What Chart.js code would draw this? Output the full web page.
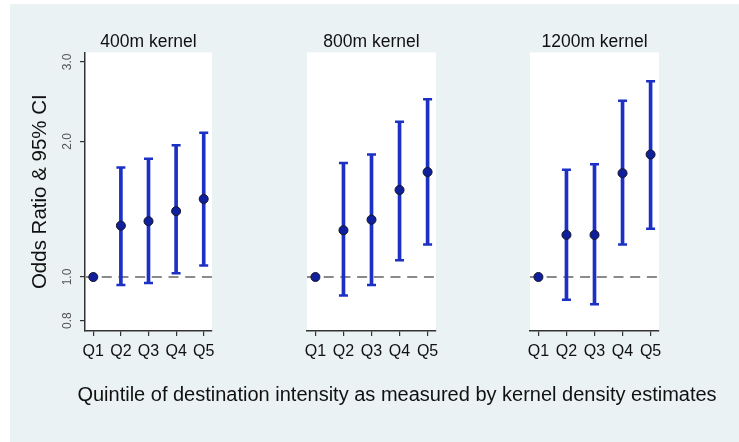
<!DOCTYPE html>
<html>
<head>
<meta charset="utf-8">
<script src="https://cdn.jsdelivr.net/npm/chart.js@4/dist/chart.umd.min.js"></script>
<style>
  html, body { margin: 0; padding: 0; background: #ffffff; width: 739px; height: 442px; overflow: hidden; }
  #bg { position: absolute; left: 10px; top: 4px; width: 729px; height: 438px; background: #eaf2f3; }
  canvas { position: absolute; top: 0; }
  #xtitle { position: absolute; left: 397px; top: 382px; transform: translateX(-50%); white-space: nowrap;
            font: 20px/24px "Liberation Sans", Arial, sans-serif; color: #111; }
</style>
</head>
<body>
<div id="bg"></div>
<canvas id="p0" width="215" height="442" style="left:0px"></canvas>
<canvas id="p1" width="140" height="442" style="left:300px"></canvas>
<canvas id="p2" width="140" height="442" style="left:524px"></canvas>
<div id="xtitle">Quintile of destination intensity as measured by kernel density estimates</div>
<script>
// Quintiles on the x axis and the odds ratios (with 95% CI) for each kernel size
const categories = ['Q1', 'Q2', 'Q3', 'Q4', 'Q5'];
const panelTitles = ['400m kernel', '800m kernel', '1200m kernel'];

const or400 = [1.00, 1.30, 1.33, 1.40, 1.49];
const lo400 = [null, 0.96, 0.97, 1.02, 1.06];
const hi400 = [null, 1.75, 1.83, 1.96, 2.09];

const or800 = [1.00, 1.27, 1.34, 1.56, 1.71];
const lo800 = [null, 0.91, 0.96, 1.09, 1.18];
const hi800 = [null, 1.79, 1.87, 2.21, 2.48];

const or1200 = [1.00, 1.24, 1.24, 1.70, 1.87];
const lo1200 = [null, 0.89, 0.87, 1.18, 1.28];
const hi1200 = [null, 1.73, 1.78, 2.46, 2.72];

const yTicks = [0.8, 1.0, 2.0, 3.0];
const refValue = 1.0;

const FONT = '"Liberation Sans", Arial, sans-serif';
const CI_BLUE = '#1c30c4';
const DOT_NAVY = '#10209c';
const X_MIN = 0.7, X_MAX = 5.3;
const Y_MIN = 0.759, Y_MAX = 3.15;

// white plotting region behind each panel
const panelBg = {
  id: 'panelBg',
  beforeDraw(chart) {
    const { ctx, chartArea: a } = chart;
    ctx.save();
    ctx.fillStyle = '#ffffff';
    ctx.fillRect(a.left, a.top, a.right - a.left, a.bottom - a.top);
    ctx.restore();
  }
};

function makePanel(id, title, or, lo, hi, showY, pad) {
  const ciBars = [], caps = [];
  categories.forEach((c, i) => {
    if (lo[i] == null) return;
    ciBars.push({ x: i + 1, y: [lo[i], hi[i]] });
    caps.push({ x: i + 1, y: lo[i] });
    caps.push({ x: i + 1, y: hi[i] });
  });
  const points = or.map((v, i) => ({ x: i + 1, y: v }));

  return new Chart(document.getElementById(id), {
    type: 'scatter',
    data: {
      datasets: [
        { type: 'line', data: [{ x: X_MIN, y: refValue }, { x: X_MAX, y: refValue }],
          borderColor: '#8a8a8a', borderWidth: 2, borderDash: [10, 6.7], pointRadius: 0, order: 4 },
        { type: 'bar', data: ciBars, backgroundColor: CI_BLUE, borderWidth: 0,
          barThickness: 3, order: 3 },
        { type: 'scatter', data: caps, pointStyle: 'line', pointRadius: 4.5,
          borderColor: CI_BLUE, borderWidth: 2.5, order: 2 },
        { type: 'scatter', data: points, pointStyle: 'circle', pointRadius: 4.5,
          backgroundColor: DOT_NAVY, borderColor: '#141428', borderWidth: 1, order: 1 }
      ]
    },
    options: {
      responsive: false,
      animation: false,
      events: [],
      devicePixelRatio: 1,
      layout: { autoPadding: false, padding: { left: pad[0], right: pad[1], top: 0, bottom: 71 } },
      plugins: {
        legend: { display: false },
        tooltip: { enabled: false },
        title: {
          display: true, text: title, fullSize: false, color: '#111',
          font: { family: FONT, size: 17.5, weight: 'normal' },
          padding: { top: 31.4, bottom: 0 }
        }
      },
      scales: {
        x: {
          type: 'linear', min: X_MIN, max: X_MAX, offset: false,
          afterBuildTicks: s => { s.ticks = categories.map((c, i) => ({ value: i + 1 })); },
          afterFit: s => { s.height = 40; s.paddingLeft = 0; s.paddingRight = 0; },
          ticks: {
            callback: v => categories[Math.round(v) - 1],
            font: { family: FONT, size: 16 }, color: '#111',
            padding: 6, autoSkip: false, maxRotation: 0, minRotation: 0
          },
          grid: { offset: false, drawOnChartArea: false, drawTicks: true, tickLength: 5, color: '#333', lineWidth: 1.2 },
          border: { display: true, color: '#333', width: 1.5 }
        },
        y: {
          type: 'logarithmic', min: Y_MIN, max: Y_MAX, display: showY, beginAtZero: false,
          afterBuildTicks: s => { s.ticks = yTicks.map(v => ({ value: v })); },
          afterFit: s => { s.width = showY ? 85 : 0; s.paddingTop = 0; s.paddingBottom = 0; },
          ticks: {
            callback: v => Number(v).toFixed(1),
            font: { family: FONT, size: 12 }, color: '#555',
            minRotation: 90, maxRotation: 90, crossAlign: 'center', padding: 4, autoSkip: false
          },
          grid: { drawOnChartArea: false, drawTicks: true, tickLength: 5, color: '#333', lineWidth: 1.2 },
          border: { display: true, color: '#333', width: 1.5 },
          title: {
            display: true, text: 'Odds Ratio & 95% CI', color: '#111',
            font: { family: FONT, size: 20.5 }, padding: { top: 28, bottom: 0 }
          }
        }
      }
    },
    plugins: [panelBg]
  });
}

makePanel('p0', panelTitles[0], or400, lo400, hi400, true, [0, 3]);
makePanel('p1', panelTitles[1], or800, lo800, hi800, false, [7, 4]);
makePanel('p2', panelTitles[2], or1200, lo1200, hi1200, false, [6, 5]);
</script>
</body>
</html>
